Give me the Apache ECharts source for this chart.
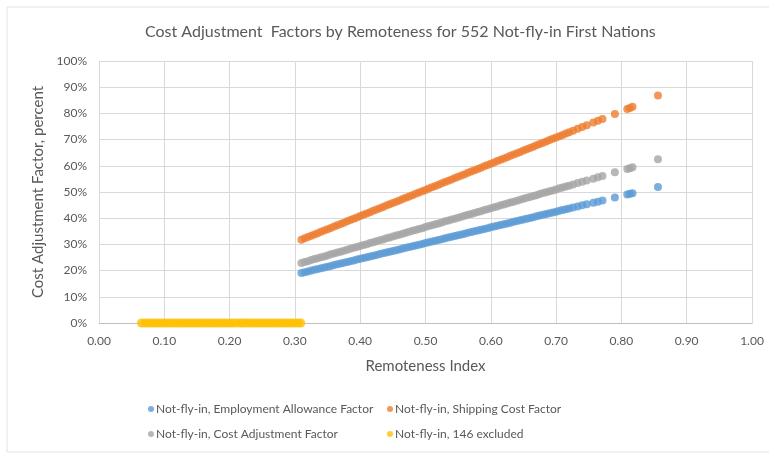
<!DOCTYPE html>
<html>
<head>
<meta charset="utf-8">
<script src="https://cdn.jsdelivr.net/npm/echarts@6/dist/echarts.min.js"></script>
<style>
  html, body { margin: 0; padding: 0; background: #fff; }
  #chart { width: 769px; height: 453px; }
</style>
</head>
<body>
<div id="chart"></div>
<script>
// remoteness index of the included nations
const remoteness = [
  0.310, 0.315, 0.320, 0.325, 0.330, 0.335, 0.340, 0.345, 0.350, 0.355,
  0.360, 0.365, 0.370, 0.375, 0.380, 0.385, 0.390, 0.395, 0.400, 0.405,
  0.410, 0.415, 0.420, 0.425, 0.430, 0.435, 0.440, 0.445, 0.450, 0.455,
  0.460, 0.465, 0.470, 0.475, 0.480, 0.485, 0.490, 0.495, 0.500, 0.505,
  0.510, 0.515, 0.520, 0.525, 0.530, 0.535, 0.540, 0.545, 0.550, 0.555,
  0.560, 0.565, 0.570, 0.575, 0.580, 0.585, 0.590, 0.595, 0.600, 0.605,
  0.610, 0.615, 0.620, 0.625, 0.630, 0.635, 0.640, 0.645, 0.650, 0.655,
  0.660, 0.665, 0.670, 0.675, 0.680, 0.685, 0.690, 0.695, 0.700,
  0.705, 0.710, 0.715, 0.720, 0.726, 0.733, 0.740, 0.747, 0.757, 0.764,
  0.771, 0.790, 0.809, 0.813, 0.817, 0.856
];

const employmentFactor = [
  19.1, 19.4, 19.7, 20.0, 20.3, 20.6, 20.9, 21.2, 21.5, 21.8,
  22.1, 22.4, 22.7, 23.0, 23.3, 23.6, 23.9, 24.2, 24.5, 24.8,
  25.1, 25.4, 25.7, 26.0, 26.3, 26.6, 26.9, 27.2, 27.5, 27.8,
  28.1, 28.4, 28.7, 29.0, 29.3, 29.6, 29.9, 30.2, 30.5, 30.8,
  31.1, 31.4, 31.7, 32.0, 32.3, 32.6, 32.9, 33.2, 33.5, 33.8,
  34.1, 34.4, 34.7, 35.0, 35.3, 35.6, 35.9, 36.2, 36.5, 36.8,
  37.1, 37.4, 37.7, 38.0, 38.3, 38.6, 38.9, 39.2, 39.5, 39.8,
  40.1, 40.4, 40.7, 41.0, 41.3, 41.6, 41.9, 42.2, 42.5,
  42.8, 43.1, 43.4, 43.7, 44.1, 44.5, 44.9, 45.3, 45.9, 46.3,
  46.8, 47.9, 49.0, 49.3, 49.5, 51.9
];

const shippingFactor = [
  31.8, 32.3, 32.8, 33.3, 33.8, 34.3, 34.8, 35.3, 35.8, 36.3,
  36.8, 37.3, 37.8, 38.3, 38.8, 39.3, 39.8, 40.3, 40.8, 41.3,
  41.8, 42.3, 42.8, 43.3, 43.8, 44.3, 44.8, 45.3, 45.8, 46.3,
  46.8, 47.3, 47.8, 48.3, 48.8, 49.3, 49.8, 50.3, 50.8, 51.3,
  51.8, 52.3, 52.8, 53.3, 53.8, 54.3, 54.8, 55.3, 55.8, 56.3,
  56.8, 57.3, 57.8, 58.3, 58.8, 59.3, 59.8, 60.3, 60.8, 61.3,
  61.8, 62.3, 62.8, 63.3, 63.8, 64.3, 64.8, 65.3, 65.8, 66.3,
  66.8, 67.3, 67.8, 68.3, 68.8, 69.3, 69.8, 70.3, 70.8,
  71.3, 71.8, 72.3, 72.8, 73.4, 74.1, 74.8, 75.5, 76.5, 77.2,
  77.9, 79.8, 81.7, 82.1, 82.5, 86.8
];

const costAdjustment = [
  22.9, 23.3, 23.6, 24.0, 24.4, 24.7, 25.1, 25.4, 25.8, 26.2,
  26.5, 26.9, 27.2, 27.6, 28.0, 28.3, 28.7, 29.0, 29.4, 29.8,
  30.1, 30.5, 30.8, 31.2, 31.6, 31.9, 32.3, 32.6, 33.0, 33.4,
  33.7, 34.1, 34.4, 34.8, 35.2, 35.5, 35.9, 36.2, 36.6, 37.0,
  37.3, 37.7, 38.0, 38.4, 38.8, 39.1, 39.5, 39.8, 40.2, 40.6,
  40.9, 41.3, 41.6, 42.0, 42.4, 42.7, 43.1, 43.4, 43.8, 44.2,
  44.5, 44.9, 45.2, 45.6, 46.0, 46.3, 46.7, 47.0, 47.4, 47.8,
  48.1, 48.5, 48.8, 49.2, 49.6, 49.9, 50.3, 50.6, 51.0,
  51.4, 51.7, 52.1, 52.4, 52.9, 53.4, 53.9, 54.4, 55.1, 55.6,
  56.1, 57.5, 58.8, 59.1, 59.4, 62.5
];

// excluded nations: remoteness below the cut, factor 0%
const excludedRemoteness = [
  0.065, 0.070, 0.075, 0.080, 0.085, 0.090, 0.095, 0.100, 0.105, 0.110,
  0.115, 0.120, 0.125, 0.130, 0.135, 0.140, 0.145, 0.150, 0.155, 0.160,
  0.165, 0.170, 0.175, 0.180, 0.185, 0.190, 0.195, 0.200, 0.205, 0.210,
  0.216, 0.220, 0.225, 0.230, 0.235, 0.240, 0.245, 0.250, 0.255, 0.260, 0.265,
  0.270, 0.275, 0.280, 0.285, 0.290, 0.295, 0.300, 0.305, 0.309
];
const excludedFactor = 0;

const seriesNames = [
  'Not-fly-in, Employment Allowance Factor',
  'Not-fly-in, Shipping Cost Factor',
  'Not-fly-in, Cost Adjustment Factor',
  'Not-fly-in, 146 excluded'
];

const pair = (xs, ys) => xs.map((x, i) => [x, ys[i]]);

const textColor = '#595959';
const fontFamily = 'Lato';

const chart = echarts.init(document.getElementById('chart'));

const legendCommon = {
  orient: 'vertical',
  top: 398,
  itemWidth: 6,
  itemHeight: 6,
  itemGap: 13,
  icon: 'circle',
  textStyle: { color: textColor, fontSize: 12, fontFamily: fontFamily, padding: [0, 0, 0, -3] }
};

const option = {
  backgroundColor: '#fff',
  animation: false,
  title: {
    text: 'Cost Adjustment  Factors by Remoteness for 552 Not-fly-in First Nations',
    left: 140,
    top: 19,
    textStyle: { color: textColor, fontSize: 16, fontWeight: 'normal', fontFamily: fontFamily }
  },
  legend: [
    Object.assign({ left: 143, data: [seriesNames[0], seriesNames[2]] }, legendCommon),
    Object.assign({ left: 382, data: [seriesNames[1], seriesNames[3]] }, legendCommon)
  ],
  grid: { left: 99, right: 17, top: 61, bottom: 130 },
  xAxis: {
    type: 'value',
    min: 0,
    max: 1,
    interval: 0.1,
    name: 'Remoteness Index',
    nameLocation: 'middle',
    nameGap: 36,
    nameTextStyle: { color: textColor, fontSize: 15, fontFamily: fontFamily },
    axisLine: { show: true, lineStyle: { color: '#bfbfbf' } },
    axisTick: { show: false },
    axisLabel: {
      color: textColor, fontSize: 12, fontFamily: fontFamily, margin: 12,
      formatter: v => v.toFixed(2)
    },
    splitLine: { show: true, lineStyle: { color: '#d9d9d9' } }
  },
  yAxis: {
    type: 'value',
    min: 0,
    max: 100,
    interval: 10,
    name: 'Cost Adjustment Factor, percent',
    nameLocation: 'middle',
    nameGap: 50,
    nameTextStyle: { color: textColor, fontSize: 15, fontFamily: fontFamily },
    axisLine: { show: false },
    axisTick: { show: false },
    axisLabel: { color: textColor, fontSize: 12, fontFamily: fontFamily, margin: 12, formatter: '{value}%' },
    splitLine: { show: true, lineStyle: { color: '#d9d9d9' } }
  },
  graphic: [{
    type: 'rect',
    shape: { x: 7, y: 7, width: 770, height: 445 },
    style: { fill: 'none', stroke: '#e3e3e3', lineWidth: 1 },
    silent: true
  }],
  series: [
    {
      name: seriesNames[3], type: 'scatter', symbolSize: 9,
      itemStyle: { color: '#ffc000' },
      data: excludedRemoteness.map(x => [x, excludedFactor])
    },
    {
      name: seriesNames[0], type: 'scatter', symbolSize: 8,
      itemStyle: { color: '#5b9bd5' },
      data: pair(remoteness, employmentFactor)
    },
    {
      name: seriesNames[1], type: 'scatter', symbolSize: 8,
      itemStyle: { color: '#ed7d31' },
      data: pair(remoteness, shippingFactor)
    },
    {
      name: seriesNames[2], type: 'scatter', symbolSize: 8,
      itemStyle: { color: '#a5a5a5' },
      data: pair(remoteness, costAdjustment)
    }
  ]
};

chart.setOption(option);
</script>
</body>
</html>
